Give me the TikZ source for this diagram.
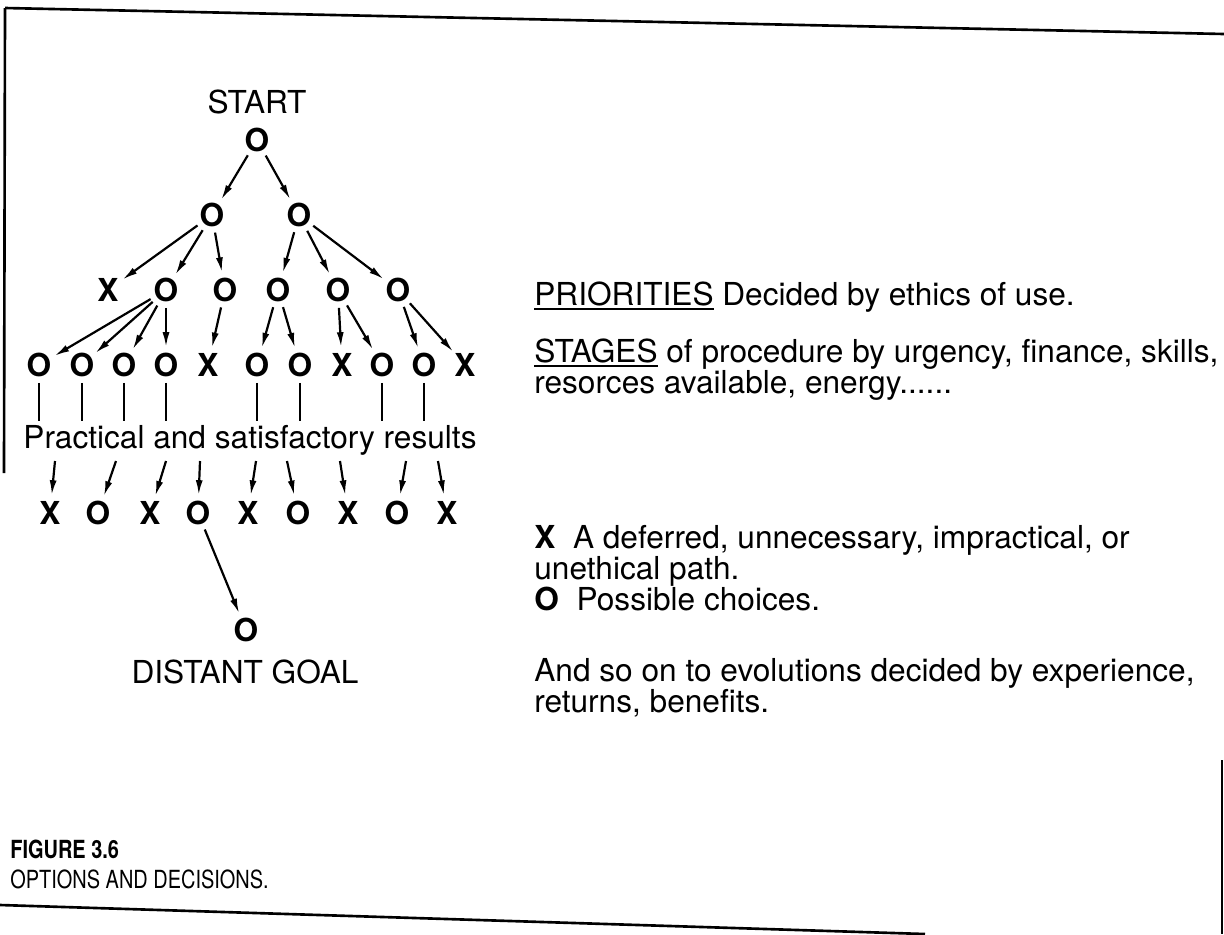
\documentclass[tikz,border=0pt]{standalone}
\usepackage{fontspec}
\setmainfont{TeX Gyre Heros}
\newfontfamily\capfont[FakeStretch=0.8]{TeX Gyre Heros}
\usetikzlibrary{arrows.meta,calc}
\newcommand\underword[1]{\setbox0=\hbox{#1}\rlap{\rule[-2.6pt]{\wd0}{1pt}}\box0\relax}

\begin{document}
\begin{tikzpicture}[x=.02cm,y=-.02cm,font=\fontsize{18}{21.6}\selectfont,
  opt/.style={circle,inner sep=0pt,minimum size=.7cm,font=\fontsize{18}{21.6}\selectfont\bfseries},
  arr/.style={line width=1.25pt,-{Latex[length=.3cm,width=.14cm]}},
  lnk/.style={line width=1.25pt},
  frame/.style={line width=1.5pt}]
\useasboundingbox (0,0) rectangle (1224,934);
\draw[frame] (5,8) -- (1224,34);
\draw[frame] (5,8) -- (4,473);
\draw[frame] (0,905) -- (925,934);
\draw[frame] (1222,760) -- (1222,934);
\node[anchor=base] (start) at (257,113) {START};
\node[opt] (a) at (257,140) {O};
\node[opt] (b1) at (212,215) {O};
\node[opt] (b2) at (299,215) {O};
\foreach \x/\lbl [count=\i] in {108/X,166/O,225/O,278/O,338/O,398/O}
  \node[opt] (c\i) at (\x,290) {\lbl};
\foreach \x/\lbl [count=\i] in {39/O,82/O,124/O,166/O,208/X,257/O,300/O,342/X,382/O,424/O,465/X}
  \node[opt] (d\i) at (\x,365) {\lbl};
\node[anchor=base,inner sep=2pt] (res) at (250,448) {Practical and satisfactory results};
\foreach \x/\lbl [count=\i] in {50/X,98/O,150/X,198/O,248/X,298/O,348/X,397/O,447/X}
  \node[opt] (e\i) at (\x,513) {\lbl};
\node[opt] (goal) at (246,630) {O};
\node[anchor=base] (dgoal) at (245,683) {DISTANT GOAL};
\foreach \p/\c in {a/b1,a/b2,b1/c1,b1/c2,b1/c3,b2/c4,b2/c5,b2/c6,c2/d1,c2/d2,c2/d3,c2/d4,
  c3/d5,c4/d6,c4/d7,c5/d8,c5/d9,c6/d10,c6/d11,e4/goal}
  \draw[arr] (\p) -- (\c);
\foreach \n in {1,2,3,4,6,7,9,10}
  \draw[lnk] (d\n) -- (d\n |- res.north);
\foreach \sx [count=\i] in {55,116,166,200,256,287,340,406,438}{
  \coordinate (r\i) at (\sx,461);
  \draw[arr] (r\i) -- (e\i);
}
\foreach \yy/\txt [count=\i] in {305/{\underword{PRIORITIES} Decided by ethics of use.},
  362/{\underword{STAGES} of procedure by urgency, finance, skills,},
  393/{resorces available, energy......},
  548/{\textbf{X}~~A deferred, unnecessary, impractical, or},
  579/{unethical path.},
  610/{\textbf{O}~~Possible choices.},
  681/{And so on to evolutions decided by experience,},
  712/{returns, benefits.}}
  \node[anchor=base west,inner sep=0pt] (note\i) at (534,\yy) {\txt};
\node[anchor=base west,inner sep=0pt,font=\capfont\bfseries\fontsize{14.2}{17}\selectfont] (fig) at (10,858) {FIGURE 3.6};
\node[anchor=base west,inner sep=0pt,font=\capfont\fontsize{14.2}{17}\selectfont] (figcap) at (10,888) {OPTIONS AND DECISIONS.};
\end{tikzpicture}
\end{document}
